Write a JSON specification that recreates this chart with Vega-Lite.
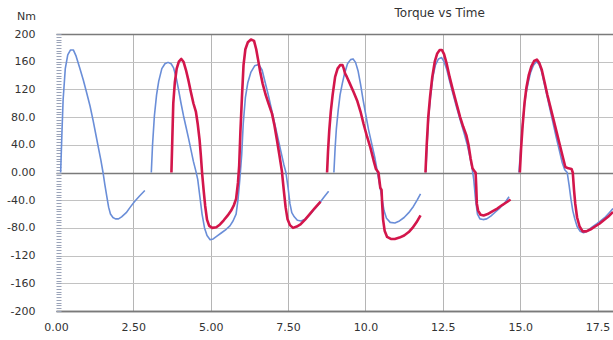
{
"$schema": "https://vega.github.io/schema/vega-lite/v6.json",
"width": 557, "height": 277,
"autosize": "none",
"padding": {"left": 56, "top": 34, "right": 0, "bottom": 29},
"background": "white",
"title": {"text": "Torque vs Time", "anchor": "start", "dx": 388, "fontSize": 12, "fontWeight": "normal", "font": "DejaVu Sans", "color": "#333333", "offset": -10},
"config": {"view": {"stroke": null}, "font": "DejaVu Sans"},
"data": {"values": [
{"run":"A","seg":1,"t":0.15,"v":0},{"run":"A","seg":1,"t":0.19,"v":55},{"run":"A","seg":1,"t":0.23,"v":105},{"run":"A","seg":1,"t":0.30,"v":150},{"run":"A","seg":1,"t":0.38,"v":170},{"run":"A","seg":1,"t":0.47,"v":177},{"run":"A","seg":1,"t":0.56,"v":177},{"run":"A","seg":1,"t":0.65,"v":168},{"run":"A","seg":1,"t":0.76,"v":152},{"run":"A","seg":1,"t":0.88,"v":134},{"run":"A","seg":1,"t":0.98,"v":117},{"run":"A","seg":1,"t":1.10,"v":96},{"run":"A","seg":1,"t":1.20,"v":75},{"run":"A","seg":1,"t":1.30,"v":52},{"run":"A","seg":1,"t":1.37,"v":36},{"run":"A","seg":1,"t":1.45,"v":18},{"run":"A","seg":1,"t":1.52,"v":0},{"run":"A","seg":1,"t":1.58,"v":-18},{"run":"A","seg":1,"t":1.64,"v":-34},{"run":"A","seg":1,"t":1.70,"v":-50},{"run":"A","seg":1,"t":1.76,"v":-60},{"run":"A","seg":1,"t":1.84,"v":-65},{"run":"A","seg":1,"t":1.92,"v":-67},{"run":"A","seg":1,"t":2.02,"v":-67},{"run":"A","seg":1,"t":2.12,"v":-64},{"run":"A","seg":1,"t":2.27,"v":-58},{"run":"A","seg":1,"t":2.40,"v":-50},{"run":"A","seg":1,"t":2.54,"v":-42},{"run":"A","seg":1,"t":2.70,"v":-34},{"run":"A","seg":1,"t":2.87,"v":-26},
{"run":"A","seg":2,"t":3.08,"v":0},{"run":"A","seg":2,"t":3.12,"v":40},{"run":"A","seg":2,"t":3.18,"v":82},{"run":"A","seg":2,"t":3.25,"v":112},{"run":"A","seg":2,"t":3.32,"v":132},{"run":"A","seg":2,"t":3.42,"v":150},{"run":"A","seg":2,"t":3.52,"v":157},{"run":"A","seg":2,"t":3.62,"v":159},{"run":"A","seg":2,"t":3.72,"v":157},{"run":"A","seg":2,"t":3.80,"v":151},{"run":"A","seg":2,"t":3.88,"v":138},{"run":"A","seg":2,"t":3.95,"v":122},{"run":"A","seg":2,"t":4.04,"v":100},{"run":"A","seg":2,"t":4.12,"v":82},{"run":"A","seg":2,"t":4.20,"v":66},{"run":"A","seg":2,"t":4.28,"v":50},{"run":"A","seg":2,"t":4.36,"v":33},{"run":"A","seg":2,"t":4.44,"v":16},{"run":"A","seg":2,"t":4.52,"v":2},{"run":"A","seg":2,"t":4.58,"v":-10},{"run":"A","seg":2,"t":4.65,"v":-35},{"run":"A","seg":2,"t":4.72,"v":-60},{"run":"A","seg":2,"t":4.80,"v":-80},{"run":"A","seg":2,"t":4.88,"v":-91},{"run":"A","seg":2,"t":4.98,"v":-97},{"run":"A","seg":2,"t":5.08,"v":-96},{"run":"A","seg":2,"t":5.20,"v":-92},{"run":"A","seg":2,"t":5.35,"v":-87},{"run":"A","seg":2,"t":5.50,"v":-82},{"run":"A","seg":2,"t":5.62,"v":-77},{"run":"A","seg":2,"t":5.72,"v":-70},{"run":"A","seg":2,"t":5.82,"v":-60},{"run":"A","seg":2,"t":5.88,"v":-40},{"run":"A","seg":2,"t":5.94,"v":-10},{"run":"A","seg":2,"t":6.00,"v":25},{"run":"A","seg":2,"t":6.05,"v":70},{"run":"A","seg":2,"t":6.12,"v":108},{"run":"A","seg":2,"t":6.20,"v":130},{"run":"A","seg":2,"t":6.30,"v":145},{"run":"A","seg":2,"t":6.42,"v":154},{"run":"A","seg":2,"t":6.55,"v":156},{"run":"A","seg":2,"t":6.66,"v":148},{"run":"A","seg":2,"t":6.76,"v":130},{"run":"A","seg":2,"t":6.86,"v":112},{"run":"A","seg":2,"t":6.96,"v":92},{"run":"A","seg":2,"t":7.06,"v":72},{"run":"A","seg":2,"t":7.16,"v":52},{"run":"A","seg":2,"t":7.26,"v":32},{"run":"A","seg":2,"t":7.36,"v":12},{"run":"A","seg":2,"t":7.43,"v":0},{"run":"A","seg":2,"t":7.50,"v":-22},{"run":"A","seg":2,"t":7.56,"v":-45},{"run":"A","seg":2,"t":7.62,"v":-58},{"run":"A","seg":2,"t":7.70,"v":-64},{"run":"A","seg":2,"t":7.80,"v":-69},{"run":"A","seg":2,"t":7.92,"v":-70},{"run":"A","seg":2,"t":8.06,"v":-67},{"run":"A","seg":2,"t":8.20,"v":-61},{"run":"A","seg":2,"t":8.35,"v":-53},{"run":"A","seg":2,"t":8.50,"v":-45},{"run":"A","seg":2,"t":8.65,"v":-36},{"run":"A","seg":2,"t":8.81,"v":-27},
{"run":"A","seg":3,"t":8.98,"v":0},{"run":"A","seg":3,"t":9.02,"v":35},{"run":"A","seg":3,"t":9.06,"v":63},{"run":"A","seg":3,"t":9.12,"v":90},{"run":"A","seg":3,"t":9.18,"v":112},{"run":"A","seg":3,"t":9.25,"v":128},{"run":"A","seg":3,"t":9.32,"v":142},{"run":"A","seg":3,"t":9.42,"v":157},{"run":"A","seg":3,"t":9.52,"v":163},{"run":"A","seg":3,"t":9.60,"v":164},{"run":"A","seg":3,"t":9.68,"v":159},{"run":"A","seg":3,"t":9.76,"v":147},{"run":"A","seg":3,"t":9.84,"v":128},{"run":"A","seg":3,"t":9.92,"v":106},{"run":"A","seg":3,"t":10.00,"v":86},{"run":"A","seg":3,"t":10.10,"v":62},{"run":"A","seg":3,"t":10.20,"v":42},{"run":"A","seg":3,"t":10.30,"v":22},{"run":"A","seg":3,"t":10.39,"v":0},{"run":"A","seg":3,"t":10.46,"v":-18},{"run":"A","seg":3,"t":10.53,"v":-36},{"run":"A","seg":3,"t":10.60,"v":-55},{"run":"A","seg":3,"t":10.68,"v":-66},{"run":"A","seg":3,"t":10.80,"v":-72},{"run":"A","seg":3,"t":10.95,"v":-73},{"run":"A","seg":3,"t":11.10,"v":-70},{"run":"A","seg":3,"t":11.25,"v":-65},{"run":"A","seg":3,"t":11.40,"v":-58},{"run":"A","seg":3,"t":11.55,"v":-49},{"run":"A","seg":3,"t":11.67,"v":-40},{"run":"A","seg":3,"t":11.78,"v":-31},
{"run":"A","seg":4,"t":11.95,"v":0},{"run":"A","seg":4,"t":11.99,"v":40},{"run":"A","seg":4,"t":12.04,"v":80},{"run":"A","seg":4,"t":12.10,"v":108},{"run":"A","seg":4,"t":12.18,"v":138},{"run":"A","seg":4,"t":12.26,"v":155},{"run":"A","seg":4,"t":12.36,"v":164},{"run":"A","seg":4,"t":12.46,"v":166},{"run":"A","seg":4,"t":12.54,"v":160},{"run":"A","seg":4,"t":12.62,"v":150},{"run":"A","seg":4,"t":12.72,"v":132},{"run":"A","seg":4,"t":12.82,"v":115},{"run":"A","seg":4,"t":12.94,"v":95},{"run":"A","seg":4,"t":13.06,"v":76},{"run":"A","seg":4,"t":13.18,"v":58},{"run":"A","seg":4,"t":13.28,"v":42},{"run":"A","seg":4,"t":13.36,"v":26},{"run":"A","seg":4,"t":13.44,"v":8},{"run":"A","seg":4,"t":13.50,"v":-10},{"run":"A","seg":4,"t":13.56,"v":-40},{"run":"A","seg":4,"t":13.62,"v":-60},{"run":"A","seg":4,"t":13.70,"v":-67},{"run":"A","seg":4,"t":13.80,"v":-68},{"run":"A","seg":4,"t":13.92,"v":-67},{"run":"A","seg":4,"t":14.05,"v":-63},{"run":"A","seg":4,"t":14.20,"v":-57},{"run":"A","seg":4,"t":14.35,"v":-51},{"run":"A","seg":4,"t":14.50,"v":-44},{"run":"A","seg":4,"t":14.64,"v":-35},
{"run":"A","seg":5,"t":14.96,"v":0},{"run":"A","seg":5,"t":15.01,"v":30},{"run":"A","seg":5,"t":15.06,"v":60},{"run":"A","seg":5,"t":15.12,"v":90},{"run":"A","seg":5,"t":15.18,"v":112},{"run":"A","seg":5,"t":15.26,"v":130},{"run":"A","seg":5,"t":15.34,"v":145},{"run":"A","seg":5,"t":15.43,"v":155},{"run":"A","seg":5,"t":15.52,"v":160},{"run":"A","seg":5,"t":15.60,"v":157},{"run":"A","seg":5,"t":15.68,"v":148},{"run":"A","seg":5,"t":15.76,"v":132},{"run":"A","seg":5,"t":15.86,"v":112},{"run":"A","seg":5,"t":15.96,"v":92},{"run":"A","seg":5,"t":16.06,"v":72},{"run":"A","seg":5,"t":16.16,"v":52},{"run":"A","seg":5,"t":16.26,"v":33},{"run":"A","seg":5,"t":16.36,"v":14},{"run":"A","seg":5,"t":16.44,"v":4},{"run":"A","seg":5,"t":16.52,"v":0},{"run":"A","seg":5,"t":16.58,"v":-18},{"run":"A","seg":5,"t":16.64,"v":-38},{"run":"A","seg":5,"t":16.70,"v":-55},{"run":"A","seg":5,"t":16.76,"v":-66},{"run":"A","seg":5,"t":16.84,"v":-78},{"run":"A","seg":5,"t":16.94,"v":-85},{"run":"A","seg":5,"t":17.05,"v":-87},{"run":"A","seg":5,"t":17.18,"v":-84},{"run":"A","seg":5,"t":17.32,"v":-79},{"run":"A","seg":5,"t":17.48,"v":-74},{"run":"A","seg":5,"t":17.62,"v":-69},{"run":"A","seg":5,"t":17.76,"v":-64},{"run":"A","seg":5,"t":17.88,"v":-58},{"run":"A","seg":5,"t":18.0,"v":-52},
{"run":"B","seg":1,"t":3.73,"v":0},{"run":"B","seg":1,"t":3.76,"v":50},{"run":"B","seg":1,"t":3.79,"v":100},{"run":"B","seg":1,"t":3.84,"v":130},{"run":"B","seg":1,"t":3.90,"v":150},{"run":"B","seg":1,"t":3.97,"v":160},{"run":"B","seg":1,"t":4.05,"v":164},{"run":"B","seg":1,"t":4.12,"v":160},{"run":"B","seg":1,"t":4.20,"v":148},{"run":"B","seg":1,"t":4.28,"v":133},{"run":"B","seg":1,"t":4.36,"v":116},{"run":"B","seg":1,"t":4.44,"v":100},{"run":"B","seg":1,"t":4.52,"v":88},{"run":"B","seg":1,"t":4.58,"v":70},{"run":"B","seg":1,"t":4.64,"v":47},{"run":"B","seg":1,"t":4.68,"v":25},{"run":"B","seg":1,"t":4.72,"v":0},{"run":"B","seg":1,"t":4.77,"v":-25},{"run":"B","seg":1,"t":4.82,"v":-48},{"run":"B","seg":1,"t":4.88,"v":-68},{"run":"B","seg":1,"t":4.95,"v":-77},{"run":"B","seg":1,"t":5.05,"v":-80},{"run":"B","seg":1,"t":5.18,"v":-79},{"run":"B","seg":1,"t":5.30,"v":-75},{"run":"B","seg":1,"t":5.42,"v":-69},{"run":"B","seg":1,"t":5.55,"v":-62},{"run":"B","seg":1,"t":5.66,"v":-55},{"run":"B","seg":1,"t":5.75,"v":-47},{"run":"B","seg":1,"t":5.82,"v":-38},{"run":"B","seg":1,"t":5.88,"v":-15},{"run":"B","seg":1,"t":5.92,"v":10},{"run":"B","seg":1,"t":5.96,"v":60},{"run":"B","seg":1,"t":6.01,"v":110},{"run":"B","seg":1,"t":6.06,"v":155},{"run":"B","seg":1,"t":6.12,"v":178},{"run":"B","seg":1,"t":6.20,"v":188},{"run":"B","seg":1,"t":6.30,"v":192},{"run":"B","seg":1,"t":6.40,"v":190},{"run":"B","seg":1,"t":6.47,"v":178},{"run":"B","seg":1,"t":6.53,"v":163},{"run":"B","seg":1,"t":6.60,"v":145},{"run":"B","seg":1,"t":6.68,"v":128},{"run":"B","seg":1,"t":6.77,"v":113},{"run":"B","seg":1,"t":6.88,"v":98},{"run":"B","seg":1,"t":6.98,"v":85},{"run":"B","seg":1,"t":7.06,"v":68},{"run":"B","seg":1,"t":7.14,"v":47},{"run":"B","seg":1,"t":7.22,"v":25},{"run":"B","seg":1,"t":7.30,"v":2},{"run":"B","seg":1,"t":7.36,"v":-25},{"run":"B","seg":1,"t":7.42,"v":-50},{"run":"B","seg":1,"t":7.48,"v":-67},{"run":"B","seg":1,"t":7.56,"v":-76},{"run":"B","seg":1,"t":7.66,"v":-80},{"run":"B","seg":1,"t":7.78,"v":-78},{"run":"B","seg":1,"t":7.90,"v":-75},{"run":"B","seg":1,"t":8.05,"v":-68},{"run":"B","seg":1,"t":8.20,"v":-60},{"run":"B","seg":1,"t":8.35,"v":-52},{"run":"B","seg":1,"t":8.55,"v":-42},
{"run":"B","seg":2,"t":8.76,"v":0},{"run":"B","seg":2,"t":8.79,"v":30},{"run":"B","seg":2,"t":8.83,"v":60},{"run":"B","seg":2,"t":8.88,"v":88},{"run":"B","seg":2,"t":8.94,"v":112},{"run":"B","seg":2,"t":9.02,"v":138},{"run":"B","seg":2,"t":9.10,"v":150},{"run":"B","seg":2,"t":9.18,"v":155},{"run":"B","seg":2,"t":9.26,"v":155},{"run":"B","seg":2,"t":9.30,"v":150},{"run":"B","seg":2,"t":9.34,"v":143},{"run":"B","seg":2,"t":9.40,"v":138},{"run":"B","seg":2,"t":9.50,"v":128},{"run":"B","seg":2,"t":9.62,"v":116},{"run":"B","seg":2,"t":9.73,"v":104},{"run":"B","seg":2,"t":9.84,"v":88},{"run":"B","seg":2,"t":9.94,"v":70},{"run":"B","seg":2,"t":10.05,"v":52},{"run":"B","seg":2,"t":10.16,"v":36},{"run":"B","seg":2,"t":10.26,"v":18},{"run":"B","seg":2,"t":10.34,"v":5},{"run":"B","seg":2,"t":10.42,"v":0},{"run":"B","seg":2,"t":10.48,"v":-22},{"run":"B","seg":2,"t":10.52,"v":-25},{"run":"B","seg":2,"t":10.54,"v":-45},{"run":"B","seg":2,"t":10.57,"v":-68},{"run":"B","seg":2,"t":10.62,"v":-84},{"run":"B","seg":2,"t":10.70,"v":-93},{"run":"B","seg":2,"t":10.82,"v":-96},{"run":"B","seg":2,"t":10.95,"v":-96},{"run":"B","seg":2,"t":11.10,"v":-94},{"run":"B","seg":2,"t":11.25,"v":-91},{"run":"B","seg":2,"t":11.40,"v":-86},{"run":"B","seg":2,"t":11.52,"v":-80},{"run":"B","seg":2,"t":11.65,"v":-72},{"run":"B","seg":2,"t":11.78,"v":-62},
{"run":"B","seg":3,"t":11.94,"v":0},{"run":"B","seg":3,"t":11.98,"v":40},{"run":"B","seg":3,"t":12.03,"v":80},{"run":"B","seg":3,"t":12.09,"v":110},{"run":"B","seg":3,"t":12.16,"v":138},{"run":"B","seg":3,"t":12.24,"v":160},{"run":"B","seg":3,"t":12.32,"v":172},{"run":"B","seg":3,"t":12.40,"v":177},{"run":"B","seg":3,"t":12.47,"v":177},{"run":"B","seg":3,"t":12.54,"v":171},{"run":"B","seg":3,"t":12.62,"v":158},{"run":"B","seg":3,"t":12.72,"v":138},{"run":"B","seg":3,"t":12.82,"v":120},{"run":"B","seg":3,"t":12.94,"v":100},{"run":"B","seg":3,"t":13.06,"v":80},{"run":"B","seg":3,"t":13.16,"v":66},{"run":"B","seg":3,"t":13.26,"v":54},{"run":"B","seg":3,"t":13.33,"v":40},{"run":"B","seg":3,"t":13.40,"v":20},{"run":"B","seg":3,"t":13.46,"v":6},{"run":"B","seg":3,"t":13.52,"v":2},{"run":"B","seg":3,"t":13.56,"v":0},{"run":"B","seg":3,"t":13.58,"v":-20},{"run":"B","seg":3,"t":13.60,"v":-45},{"run":"B","seg":3,"t":13.64,"v":-55},{"run":"B","seg":3,"t":13.72,"v":-61},{"run":"B","seg":3,"t":13.82,"v":-62},{"run":"B","seg":3,"t":13.95,"v":-60},{"run":"B","seg":3,"t":14.10,"v":-56},{"run":"B","seg":3,"t":14.26,"v":-52},{"run":"B","seg":3,"t":14.42,"v":-47},{"run":"B","seg":3,"t":14.56,"v":-43},{"run":"B","seg":3,"t":14.69,"v":-39},
{"run":"B","seg":4,"t":14.99,"v":0},{"run":"B","seg":4,"t":15.03,"v":35},{"run":"B","seg":4,"t":15.08,"v":68},{"run":"B","seg":4,"t":15.14,"v":100},{"run":"B","seg":4,"t":15.20,"v":122},{"run":"B","seg":4,"t":15.28,"v":141},{"run":"B","seg":4,"t":15.36,"v":153},{"run":"B","seg":4,"t":15.45,"v":161},{"run":"B","seg":4,"t":15.54,"v":163},{"run":"B","seg":4,"t":15.62,"v":158},{"run":"B","seg":4,"t":15.70,"v":148},{"run":"B","seg":4,"t":15.78,"v":132},{"run":"B","seg":4,"t":15.88,"v":112},{"run":"B","seg":4,"t":15.98,"v":94},{"run":"B","seg":4,"t":16.08,"v":76},{"run":"B","seg":4,"t":16.18,"v":58},{"run":"B","seg":4,"t":16.28,"v":40},{"run":"B","seg":4,"t":16.38,"v":22},{"run":"B","seg":4,"t":16.46,"v":8},{"run":"B","seg":4,"t":16.56,"v":6},{"run":"B","seg":4,"t":16.66,"v":5},{"run":"B","seg":4,"t":16.70,"v":0},{"run":"B","seg":4,"t":16.74,"v":-25},{"run":"B","seg":4,"t":16.78,"v":-45},{"run":"B","seg":4,"t":16.84,"v":-65},{"run":"B","seg":4,"t":16.92,"v":-78},{"run":"B","seg":4,"t":17.02,"v":-85},{"run":"B","seg":4,"t":17.14,"v":-85},{"run":"B","seg":4,"t":17.28,"v":-82},{"run":"B","seg":4,"t":17.42,"v":-78},{"run":"B","seg":4,"t":17.56,"v":-74},{"run":"B","seg":4,"t":17.70,"v":-69},{"run":"B","seg":4,"t":17.84,"v":-64},{"run":"B","seg":4,"t":18.0,"v":-57}
]},
"encoding": {
  "x": {"field": "t", "type": "quantitative",
    "scale": {"domain": [0, 18], "nice": false, "zero": false},
    "axis": {"title": null, "values": [0, 2.5, 5, 7.5, 10, 12.5, 15, 17.5],
      "labelExpr": "datum.value < 10 ? format(datum.value, '.2f') : format(datum.value, '.1f')",
      "labelFont": "DejaVu Sans", "labelFontSize": 11, "labelColor": "#333333",
      "labelPadding": 10, "labelFlush": false, "labelOverlap": false,
      "ticks": false, "domain": true, "domainColor": "#7a7a7a", "domainWidth": 1.5,
      "grid": true, "gridColor": {"condition": {"test": "datum.value == 0", "value": "transparent"}, "value": "#b5b5b5"}, "gridWidth": 1}},
  "y": {"field": "v", "type": "quantitative",
    "scale": {"domain": [-200, 200], "nice": false, "zero": false},
    "axis": {"title": "Nm", "titleAngle": 0, "titleX": -30, "titleY": -15, "titleAlign": "center", "titleBaseline": "alphabetic",
      "titleFont": "DejaVu Sans", "titleFontSize": 11, "titleFontWeight": "normal", "titleColor": "#333333",
      "values": [-200,-196,-192,-188,-184,-180,-176,-172,-168,-164,-160,-156,-152,-148,-144,-140,-136,-132,-128,-124,-120,-116,-112,-108,-104,-100,-96,-92,-88,-84,-80,-76,-72,-68,-64,-60,-56,-52,-48,-44,-40,-36,-32,-28,-24,-20,-16,-12,-8,-4,0,4,8,12,16,20,24,28,32,36,40,44,48,52,56,60,64,68,72,76,80,84,88,92,96,100,104,108,112,116,120,124,128,132,136,140,144,148,152,156,160,164,168,172,176,180,184,188,192,196,200],
      "labelExpr": "datum.value % 40 != 0 ? '' : abs(datum.value) >= 100 ? toString(datum.value) : datum.value == 0 ? '0.00' : toString(datum.value) + '.0'",
      "labelFont": "DejaVu Sans", "labelFontSize": 11, "labelColor": "#333333",
      "labelPadding": 26, "labelFlush": false, "labelOverlap": false,
      "ticks": true, "tickSize": -5, "tickColor": "#9aa3b8", "tickWidth": 1,
      "domain": false,
      "grid": true,
      "gridOpacity": {"condition": {"test": "datum.value % 40 != 0", "value": 0}, "value": 1},
      "gridColor": {"condition": {"test": "datum.value == 0 || abs(datum.value) == 200", "value": "#7a7a7a"}, "value": "#c2c2c2"},
      "gridWidth": {"condition": {"test": "datum.value == 0 || abs(datum.value) == 200", "value": 1.4}, "value": 1}}}
},
"layer": [
  {"transform": [{"filter": "datum.run === 'A'"}],
   "mark": {"type": "line", "clip": true, "color": "#6a8ed8", "strokeWidth": 1.6, "strokeJoin": "round"},
   "encoding": {"detail": {"field": "seg", "type": "nominal"}}},
  {"transform": [{"filter": "datum.run === 'B'"}],
   "mark": {"type": "line", "clip": true, "color": "#d3164b", "strokeWidth": 2.6, "strokeJoin": "round"},
   "encoding": {"detail": {"field": "seg", "type": "nominal"}}}
]
}
